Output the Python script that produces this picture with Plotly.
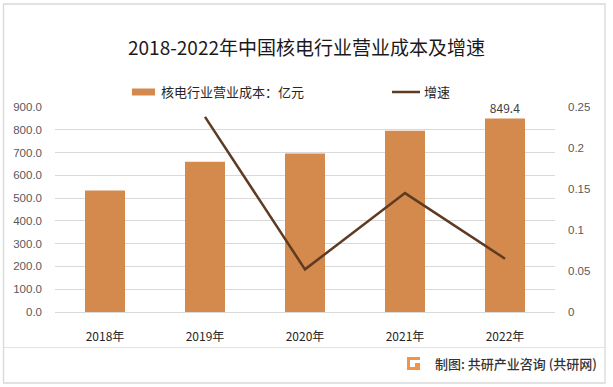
import plotly.graph_objects as go

years = ["2018年", "2019年", "2020年", "2021年", "2022年"]
cost = [533.2, 659.5, 695.6, 795.6, 849.4]
growth = [None, 0.238, 0.052, 0.145, 0.065]
cost_labels = ["", "", "", "", "849.4"]
left_ticks = [0, 100, 200, 300, 400, 500, 600, 700, 800, 900]
right_ticks = [0, 0.05, 0.1, 0.15, 0.2, 0.25]
right_tick_text = ["0", "0.05", "0.1", "0.15", "0.2", "0.25"]

W, H = 613, 387
L, R, T, B = 55, 58, 107, 75
PW, PH = W - L - R, H - T - B

def fx(px):
    return (px - L) / PW

def fy(py):
    return (H - B - py) / PH

FONT = "Noto Sans CJK SC"
BAR_C = "#D48A4C"
LINE_C = "#5E3B22"

fig = go.Figure()
fig.add_trace(go.Bar(
    x=years, y=cost, width=0.4, marker=dict(color=BAR_C, line=dict(width=0)),
    text=cost_labels, textposition="outside", cliponaxis=False,
    textfont=dict(family=FONT, size=12, color="#404040"),
    name="核电行业营业成本：亿元", showlegend=False,
))
fig.add_trace(go.Scatter(
    x=years, y=growth, mode="lines", yaxis="y2",
    line=dict(color=LINE_C, width=2.5), name="增速", showlegend=False,
))

shapes = [
    # outer border
    dict(type="rect", xref="paper", yref="paper", x0=fx(3.5), x1=fx(605), y0=fy(383), y1=fy(4),
         line=dict(color="#D9D9D9", width=1.3), fillcolor="rgba(0,0,0,0)", layer="below"),
    # separator
    dict(type="line", xref="paper", yref="paper", x0=fx(4), x1=fx(604), y0=fy(347.5), y1=fy(347.5),
         line=dict(color="#E3E3E3", width=1)),
    # legend swatches
    dict(type="rect", xref="paper", yref="paper", x0=fx(132), x1=fx(155), y0=fy(95.5), y1=fy(88.5),
         line=dict(width=0), fillcolor=BAR_C),
    dict(type="line", xref="paper", yref="paper", x0=fx(392), x1=fx(420), y0=fy(92), y1=fy(92),
         line=dict(color=LINE_C, width=2.5)),
    # logo
    dict(type="rect", xref="paper", yref="paper", x0=fx(407), x1=fx(420), y0=fy(370), y1=fy(357),
         line=dict(width=0), fillcolor="#F2934A"),
    dict(type="rect", xref="paper", yref="paper", x0=fx(410), x1=fx(420.5), y0=fy(363), y1=fy(360),
         line=dict(width=0), fillcolor="white"),
    dict(type="rect", xref="paper", yref="paper", x0=fx(410), x1=fx(415), y0=fy(367), y1=fy(363),
         line=dict(width=0), fillcolor="white"),
]

annotations = [
    dict(text="核电行业营业成本：亿元", xref="paper", yref="paper", x=fx(159), y=fy(92),
         xanchor="left", yanchor="middle", showarrow=False,
         font=dict(family=FONT, size=13, color="#262626")),
    dict(text="增速", xref="paper", yref="paper", x=fx(422), y=fy(92),
         xanchor="left", yanchor="middle", showarrow=False,
         font=dict(family=FONT, size=13, color="#262626")),
    dict(text="制图: 共研产业咨询 (共研网)", xref="paper", yref="paper", x=fx(599), y=fy(363.5),
         xanchor="right", yanchor="middle", showarrow=False,
         font=dict(family=FONT, size=13, color="#333333", weight=500)),
]

fig.update_layout(
    width=W, height=H,
    margin=dict(l=L, r=R, t=T, b=B, autoexpand=False),
    paper_bgcolor="white", plot_bgcolor="white",
    title=dict(text="2018-2022年中国核电行业营业成本及增速", x=0.5, xanchor="center",
               xref="container", yref="container", y=1 - 48 / H, yanchor="middle",
               font=dict(family=FONT, size=19, color="#1a1a1a")),
    xaxis=dict(showgrid=False, showline=True, linecolor="#D9D9D9", linewidth=1,
               ticks="", ticklabelstandoff=14,
               tickfont=dict(family=FONT, size=12, color="#262626")),
    yaxis=dict(range=[0, 900], tickvals=left_ticks, tickformat=".1f",
               showgrid=True, gridcolor="#D9D9D9", gridwidth=1, zeroline=False,
               showline=False, ticks="", ticklabelstandoff=12,
               tickfont=dict(family="Liberation Sans", size=11.5, color="#595959")),
    yaxis2=dict(range=[0, 0.25], overlaying="y", side="right", tickvals=right_ticks,
                ticktext=right_tick_text, showgrid=False, zeroline=False, showline=False,
                ticks="", ticklabelstandoff=12,
                tickfont=dict(family="Liberation Sans", size=11.5, color="#595959")),
    shapes=shapes, annotations=annotations, showlegend=False,
)

fig.write_html("out.html", config={"displayModeBar": False},
               post_script="document.body.style.margin='0';document.body.style.overflow='hidden';")
